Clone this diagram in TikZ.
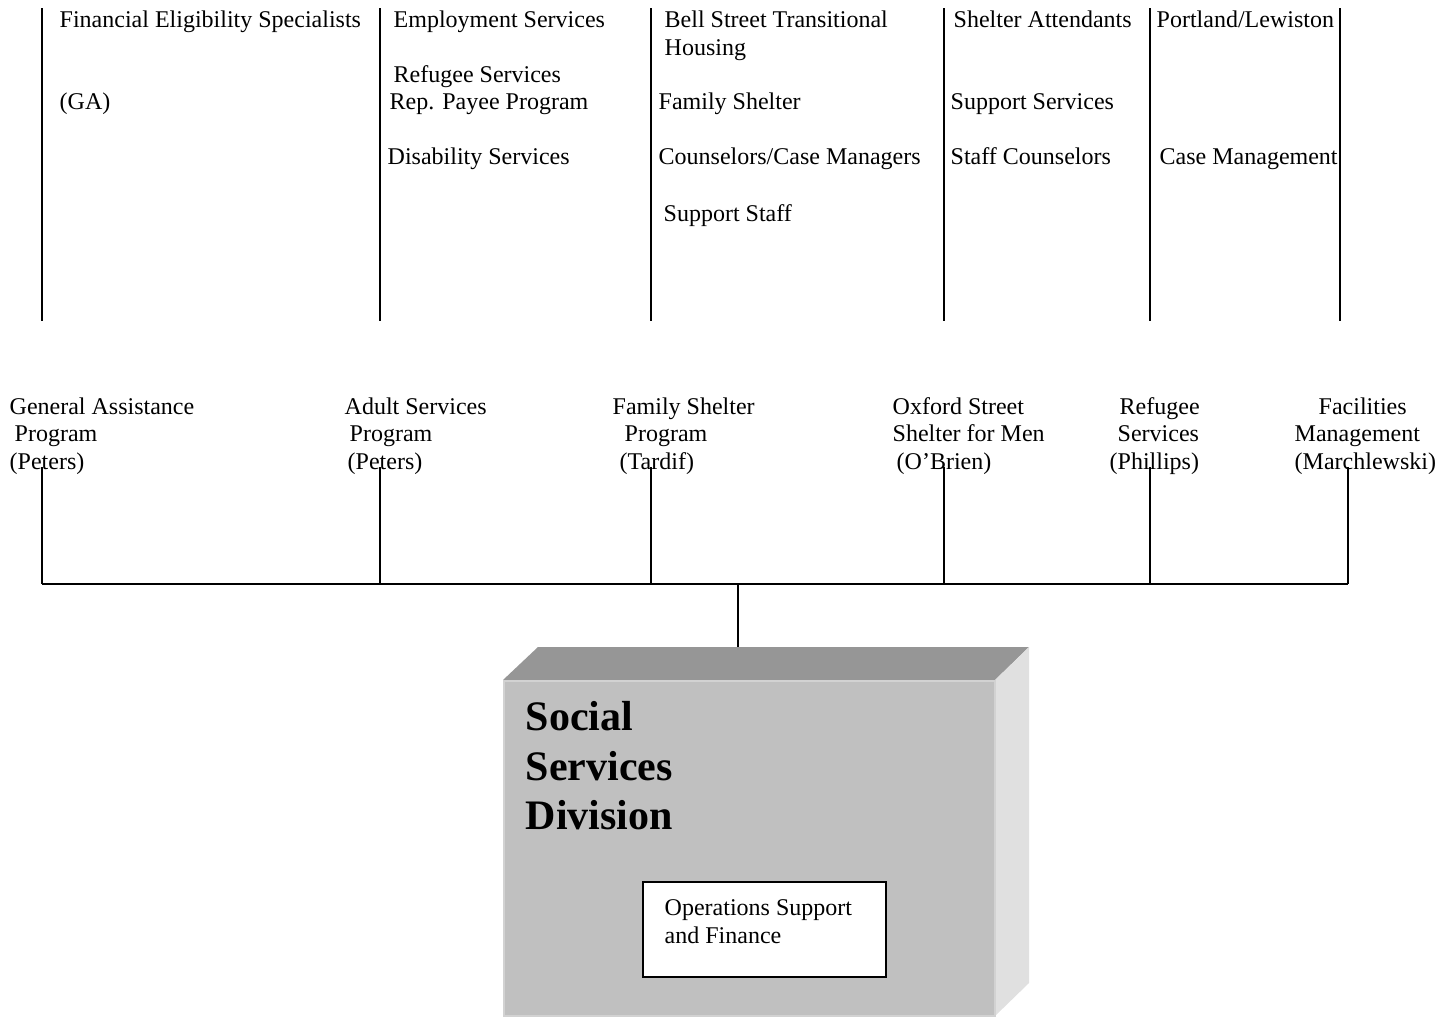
\documentclass[tikz,border=0pt]{standalone}
\usepackage{fontspec}
\setmainfont{Liberation Serif}
\definecolor{boxfront}{HTML}{C0C0C0}
\definecolor{boxedge}{HTML}{D2D2D2}
\definecolor{boxtop}{HTML}{969696}
\definecolor{boxside}{HTML}{E0E0E0}
\begin{document}
\begin{tikzpicture}[x=0.5pt, y=-0.5pt, line width=0.7pt,
    lbl/.style={inner sep=0pt, anchor=base west, font=\fontsize{12}{13.8}\selectfont},
    head/.style={inner sep=0pt, anchor=base west, font=\fontsize{21}{24.5}\selectfont\bfseries}]
\useasboundingbox (0,0) rectangle (1452,1017);

% column rules over the staff lists
\foreach \x in {42,380,651,944,1150,1340}
    \draw (\x,8) -- (\x,321);

% staff lists
\node[lbl] (fes) at (59,27) {Financial Eligibility Specialists};
\node[lbl] (ga) at (59,109) {(GA)};
\node[lbl] (emp) at (393,27) {Employment Services};
\node[lbl] (ref) at (393,82) {Refugee Services};
\node[lbl] (rpp) at (389,109) {Rep. Payee Program};
\node[lbl] (dis) at (387,164) {Disability Services};
\node[lbl] (bell1) at (664,27) {Bell Street Transitional};
\node[lbl] (bell2) at (664,55) {Housing};
\node[lbl] (fsh) at (658,109) {Family Shelter};
\node[lbl] (ccm) at (658,164) {Counselors/Case Managers};
\node[lbl] (sst) at (663,221) {Support Staff};
\node[lbl] (att) at (953,27) {Shelter Attendants};
\node[lbl] (sup) at (950,109) {Support Services};
\node[lbl] (stc) at (950,164) {Staff Counselors};
\node[lbl] (pl) at (1156,27) {Portland/Lewiston};
\node[lbl] (cm) at (1159,164) {Case Management};

% programs
\node[lbl] (ga1) at (9,414) {General Assistance};
\node[lbl] (ga2) at (14,441) {Program};
\node[lbl] (ga3) at (9,469) {(Peters)};
\node[lbl] (as1) at (344,414) {Adult Services};
\node[lbl] (as2) at (349,441) {Program};
\node[lbl] (as3) at (347,469) {(Peters)};
\node[lbl] (fs1) at (612,414) {Family Shelter};
\node[lbl] (fs2) at (624,441) {Program};
\node[lbl] (fs3) at (619,469) {(Tardif)};
\node[lbl] (os1) at (892,414) {Oxford Street};
\node[lbl] (os2) at (892,441) {Shelter for Men};
\node[lbl] (os3) at (896,469) {(O’Brien)};
\node[lbl] (rs1) at (1119,414) {Refugee};
\node[lbl] (rs2) at (1117,441) {Services};
\node[lbl] (rs3) at (1109,469) {(Phillips)};
\node[lbl] (fm1) at (1318,414) {Facilities};
\node[lbl] (fm2) at (1294,441) {Management};
\node[lbl] (fm3) at (1294,469) {(Marchlewski)};

% division box
\fill[boxtop] (503,680) -- (538,647) -- (1029,647) -- (995,680) -- cycle;
\fill[boxside] (995,680) -- (1029,647) -- (1029,983) -- (995,1016) -- cycle;
\filldraw[fill=boxfront, draw=boxedge, line width=1pt] (504,681) rectangle (995,1016);
\coordinate (ssd) at (738,647);
\node[head] (soc) at (525,730) {Social};
\node[head] (ser) at (525,780) {Services};
\node[head] (div) at (525,829) {Division};
\filldraw[fill=white, line width=0.9pt] (643,882) rectangle (886,977);
\node[lbl] (ops1) at (664,915) {Operations Support};
\node[lbl] (ops2) at (664,943) {and Finance};

% tree
\coordinate (bus) at (738,584);
\coordinate (gatop) at (42,467);   \coordinate (gabus) at (42,584);
\coordinate (astop) at (380,467);  \coordinate (asbus) at (380,584);
\coordinate (fstop) at (651,467);  \coordinate (fsbus) at (651,584);
\coordinate (ostop) at (944,467);  \coordinate (osbus) at (944,584);
\coordinate (rstop) at (1150,467); \coordinate (rsbus) at (1150,584);
\coordinate (fmtop) at (1348,467); \coordinate (fmbus) at (1348,584);
\draw (gatop) -- (gabus);
\draw (astop) -- (asbus);
\draw (fstop) -- (fsbus);
\draw (ostop) -- (osbus);
\draw (rstop) -- (rsbus);
\draw (fmtop) -- (fmbus);
\draw (gabus) -- (fmbus);
\draw (bus) -- (ssd);
\end{tikzpicture}
\end{document}
